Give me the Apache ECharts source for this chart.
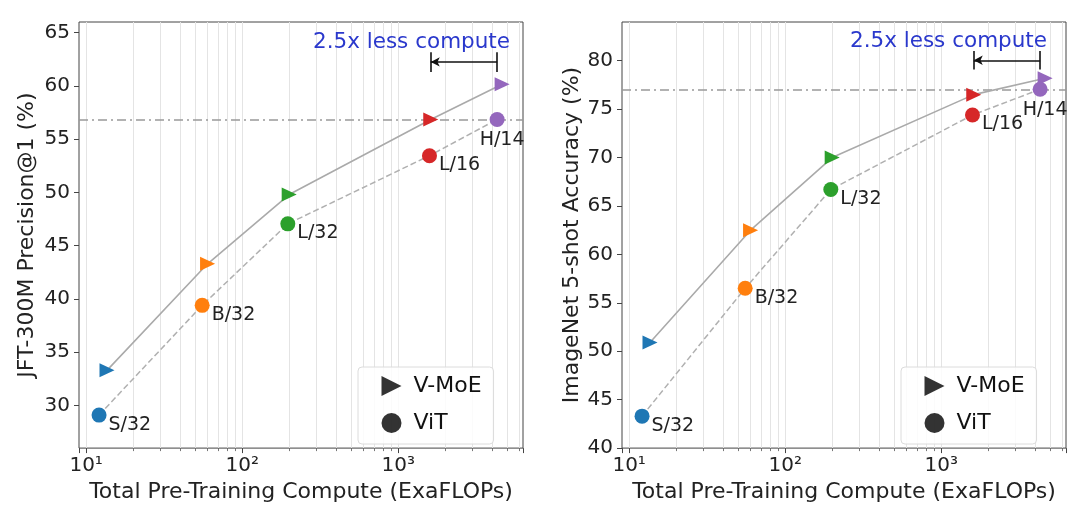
<!DOCTYPE html>
<html><head><meta charset="utf-8">
<script src="https://cdn.jsdelivr.net/npm/echarts@6/dist/echarts.min.js"></script>
<style>html,body{margin:0;padding:0;background:#fff}#c{width:1080px;height:508px}</style>
</head><body><div id="c"></div>
<script>
// ---------------- data ----------------
const models = ['S/32', 'B/32', 'L/32', 'L/16', 'H/14'];
const computeVMoE = [13.6, 60, 200, 1615, 4630];
const computeViT = [12.1, 55.4, 196, 1585, 4300];
const jftVMoE = [33.3, 43.3, 49.8, 56.85, 60.15];
const jftViT = [29.1, 39.4, 47.05, 53.45, 56.85];
const inetVMoE = [50.9, 62.5, 70.0, 76.5, 78.2];
const inetViT = [43.3, 56.5, 66.7, 74.4, 77.05];
const jftTicks = [30, 35, 40, 45, 50, 55, 60, 65];
const inetTicks = [40, 45, 50, 55, 60, 65, 70, 75, 80];
const xTickLabels = {10: '10¹', 100: '10²', 1000: '10³'};
const xGridValues = [10, 20, 30, 40, 50, 60, 70, 80, 90, 100, 200, 300, 400, 500, 600, 700, 800, 900, 1000, 2000, 3000, 4000, 5000, 6000];
const xMinorValues = [20, 30, 40, 50, 60, 70, 80, 90, 200, 300, 400, 500, 600, 700, 800, 900, 2000, 3000, 4000, 5000, 6000];
const jftRange = [26, 66];
const inetRange = [40, 84];
const xRange = [9, 6300];
const jftRef = 56.85, inetRef = 77.05;          // dash-dot reference level (ViT H/14)
const jftArrow = {y: 62.25, bar: [61.3, 63.15]};
const inetArrow = {y: 80.05, bar: [79.1, 81.0]};
const annotationText = '2.5x less compute';
const legendNames = ['V-MoE', 'ViT'];
const xTitle = 'Total Pre-Training Compute (ExaFLOPs)';
const yTitles = ['JFT-300M Precision@1 (%)', 'ImageNet 5-shot Accuracy (%)'];

// ---------------- styles ----------------
const colors = ['#1f77b4', '#ff7f0e', '#2ca02c', '#d62728', '#9467bd'];
const FONT = 'DejaVu Sans';
const TRI = 'path://M0,0L10,5L0,10Z';
const grids = [
  {left: 79, top: 22, width: 444, height: 432},
  {left: 622, top: 22, width: 444, height: 432}
];

function xAxisFor(gi) {
  return {
    type: 'log', logBase: 10, gridIndex: gi, min: xRange[0], max: xRange[1], position: 'bottom',
    splitLine: {show: false}, axisLine: {show: false},
    axisTick: {show: true, length: 5, lineStyle: {color: '#444'}},
    axisLabel: {
      fontSize: 20, color: '#222', fontFamily: FONT, margin: 8,
      formatter: v => xTickLabels[Math.round(v)] || ''
    },
    name: xTitle, nameLocation: 'middle', nameGap: 31,
    nameTextStyle: {fontSize: 22, color: '#222', fontFamily: FONT}
  };
}
function xMinorAxisFor(gi) {
  return {
    type: 'log', logBase: 10, gridIndex: gi, min: xRange[0], max: xRange[1], position: 'bottom',
    splitLine: {show: false}, axisLine: {show: false},
    axisTick: {show: true, length: 3, customValues: xMinorValues, lineStyle: {color: '#555', width: 0.8}},
    axisLabel: {show: false}
  };
}
function yAxisFor(gi, range, ticks, name, gap) {
  return {
    type: 'value', gridIndex: gi, min: range[0], max: range[1],
    splitLine: {show: false}, axisLine: {show: false},
    axisTick: {show: true, length: 5, customValues: ticks, lineStyle: {color: '#444'}},
    axisLabel: {customValues: ticks, fontSize: 20, color: '#222', fontFamily: FONT, margin: 9},
    name: name, nameLocation: 'middle', nameRotate: 90, nameGap: gap,
    nameTextStyle: {fontSize: 22, color: '#222', fontFamily: FONT}
  };
}

function panelSeries(gi, yV, yT, ref, arrow) {
  const ax = {xAxisIndex: gi, yAxisIndex: gi};
  const vmoeData = computeVMoE.map((x, i) => ({value: [x, yV[i]], itemStyle: {color: colors[i]}}));
  const vitData = computeViT.map((x, i) => ({
    value: [x, yT[i]], name: models[i], itemStyle: {color: colors[i]},
    label: i === models.length - 1
      ? {show: true, position: 'bottom', distance: 4, offset: [5, 0]}
      : {show: true, position: 'right', distance: 2, offset: [0, 9.5]}
  }));
  const xFrom = computeVMoE[3], xTo = computeViT[4];
  return [
    { // vertical grid lines
      type: 'line', ...ax, data: [], silent: true, z: 0,
      markLine: {
        z: 0, silent: true, symbol: 'none', animation: false, label: {show: false},
        lineStyle: {color: '#e4e4e4', width: 1, type: 'solid'},
        emphasis: {disabled: true},
        data: xGridValues.map(v => ({xAxis: v}))
      }
    },
    { // dash-dot reference level
      type: 'line', ...ax, data: [], silent: true, z: 1,
      markLine: {
        z: 1, silent: true, symbol: 'none', animation: false, label: {show: false},
        lineStyle: {color: '#999', width: 1.5, type: [9, 4, 2, 4]},
        emphasis: {disabled: true},
        data: [{yAxis: ref}]
      }
    },
    { // arrow annotation
      type: 'line', ...ax, data: [], silent: true, z: 3,
      markLine: {
        z: 3, silent: true, animation: false, label: {show: false},
        lineStyle: {color: '#111', width: 1.6, type: 'solid'},
        emphasis: {disabled: true},
        symbol: 'none',
        data: [
          [{coord: [xFrom, arrow.y], symbol: 'arrow', symbolSize: [7, 9]}, {coord: [xTo, arrow.y], symbol: 'none'}],
          [{coord: [xFrom, arrow.bar[0]]}, {coord: [xFrom, arrow.bar[1]]}],
          [{coord: [xTo, arrow.bar[0]]}, {coord: [xTo, arrow.bar[1]]}]
        ]
      }
    },
    {
      name: 'V-MoE line', type: 'line', ...ax, data: vmoeData, z: 4,
      symbol: TRI, symbolSize: [15, 14], showAllSymbol: true,
      lineStyle: {color: '#aaaaaa', width: 1.6}, animation: false,
      emphasis: {disabled: true}
    },
    {
      name: 'ViT line', type: 'line', ...ax, data: vitData, z: 4,
      symbol: 'circle', symbolSize: 15, showAllSymbol: true,
      lineStyle: {color: '#b0b0b0', width: 1.5, type: [6, 3]}, animation: false,
      label: {color: '#222', fontSize: 19, fontFamily: FONT, formatter: p => p.name},
      emphasis: {disabled: true}
    }
  ];
}

function legendFor(left) {
  return {
    orient: 'vertical', left: left, top: 367, z: 20,
    padding: [8, 12, 10, 23.5], itemGap: 15, itemWidth: 20, itemHeight: 20,
    backgroundColor: 'rgba(255,255,255,0.85)', borderColor: '#dcdcdc', borderWidth: 1, borderRadius: 4,
    selectedMode: false,
    textStyle: {fontSize: 22, color: '#111', fontFamily: FONT, padding: [0, 0, 0, 7], lineHeight: 20},
    data: [
      {name: legendNames[0], icon: TRI, itemStyle: {color: '#000'}},
      {name: legendNames[1], icon: 'circle', itemStyle: {color: '#000'}}
    ]
  };
}

const chart = echarts.init(document.getElementById('c'), null, {renderer: 'canvas'});
chart.setOption({
  backgroundColor: '#fff',
  animation: false,
  textStyle: {fontFamily: FONT},
  title: [
    {text: annotationText, right: 570, top: 31, padding: 0,
     textStyle: {color: '#2a38cc', fontSize: 21.5, fontWeight: 'normal', fontFamily: FONT}},
    {text: annotationText, right: 33, top: 30, padding: 0,
     textStyle: {color: '#2a38cc', fontSize: 21.5, fontWeight: 'normal', fontFamily: FONT}}
  ],
  grid: grids.map(g => ({...g, show: true, borderColor: '#444', borderWidth: 1, backgroundColor: 'transparent', containLabel: false})),
  xAxis: [xAxisFor(0), xAxisFor(1), xMinorAxisFor(0), xMinorAxisFor(1)],
  yAxis: [yAxisFor(0, jftRange, jftTicks, yTitles[0], 41), yAxisFor(1, inetRange, inetTicks, yTitles[1], 38)],
  legend: [legendFor(358), legendFor(901)],
  series: [
    {name: legendNames[0], type: 'scatter', data: [], xAxisIndex: 0, yAxisIndex: 0},
    {name: legendNames[1], type: 'scatter', data: [], xAxisIndex: 0, yAxisIndex: 0},
    ...panelSeries(0, jftVMoE, jftViT, jftRef, jftArrow),
    ...panelSeries(1, inetVMoE, inetViT, inetRef, inetArrow)
  ]
});
</script>
</body></html>
